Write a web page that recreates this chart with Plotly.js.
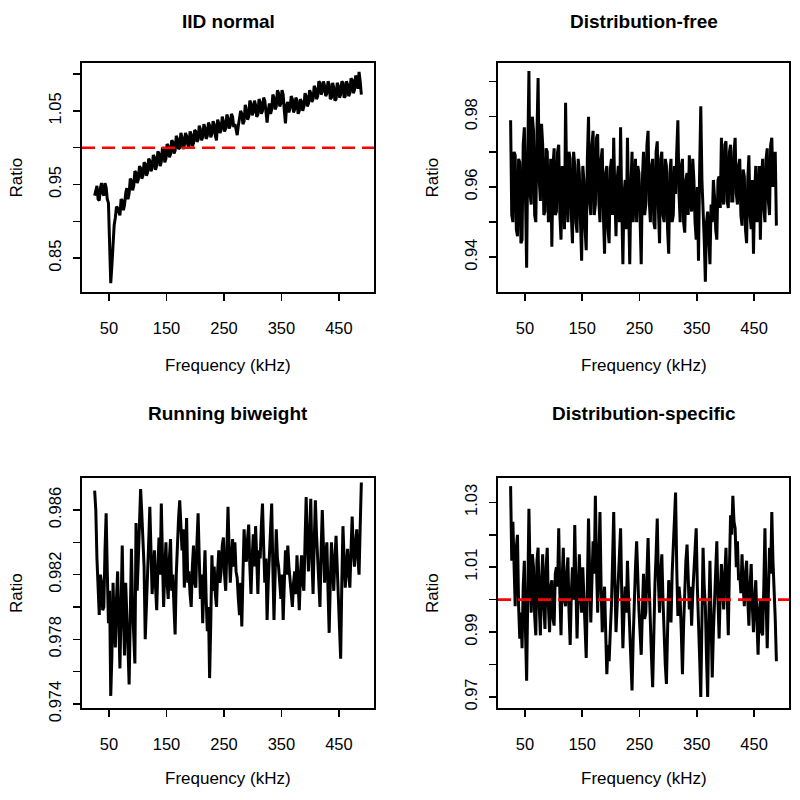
<!DOCTYPE html>
<html>
<head>
<meta charset="utf-8">
<script src="https://cdn.plot.ly/plotly-3.0.1.min.js"></script>
<style>
  body { margin: 0; background: #fff; }
  #chart { width: 800px; height: 800px; }
</style>
</head>
<body>
<div id="chart"></div>
<script>
// frequency grid (kHz)
const freq = [
  25, 27, 29, 31, 33, 35, 37, 39, 41, 43, 45, 47, 49, 51, 53, 55, 57, 59, 61, 63,
  65, 67, 69, 71, 73, 75, 77, 79, 81, 83, 85, 87, 89, 91, 93, 95, 97, 99, 101, 103,
  105, 107, 109, 111, 113, 115, 117, 119, 121, 123, 125, 127, 129, 131, 133, 135, 137, 139, 141, 143,
  145, 147, 149, 151, 153, 155, 157, 159, 161, 163, 165, 167, 169, 171, 173, 175, 177, 179, 181, 183,
  185, 187, 189, 191, 193, 195, 197, 199, 201, 203, 205, 207, 209, 211, 213, 215, 217, 219, 221, 223,
  225, 227, 229, 231, 233, 235, 237, 239, 241, 243, 245, 247, 249, 251, 253, 255, 257, 259, 261, 263,
  265, 267, 269, 271, 273, 275, 277, 279, 281, 283, 285, 287, 289, 291, 293, 295, 297, 299, 301, 303,
  305, 307, 309, 311, 313, 315, 317, 319, 321, 323, 325, 327, 329, 331, 333, 335, 337, 339, 341, 343,
  345, 347, 349, 351, 353, 355, 357, 359, 361, 363, 365, 367, 369, 371, 373, 375, 377, 379, 381, 383,
  385, 387, 389, 391, 393, 395, 397, 399, 401, 403, 405, 407, 409, 411, 413, 415, 417, 419, 421, 423,
  425, 427, 429, 431, 433, 435, 437, 439, 441, 443, 445, 447, 449, 451, 453, 455, 457, 459, 461, 463,
  465, 467, 469, 471, 473, 475, 477, 479, 481, 483, 485, 487, 489
];

const iidNormal = [
  0.935, 0.944, 0.948, 0.930, 0.928, 0.945, 0.952, 0.938, 0.935, 0.952, 0.946, 0.930, 0.925, 0.870, 0.816, 0.840, 0.875, 0.895, 0.905, 0.920,
  0.918, 0.912, 0.908, 0.930, 0.928, 0.915, 0.922, 0.938, 0.945, 0.930, 0.938, 0.958, 0.955, 0.942, 0.948, 0.968, 0.966, 0.952, 0.957, 0.975,
  0.972, 0.958, 0.962, 0.980, 0.978, 0.962, 0.966, 0.985, 0.982, 0.968, 0.972, 0.990, 0.987, 0.970, 0.976, 0.995, 0.992, 0.975, 0.981, 1.000,
  0.998, 0.980, 0.985, 1.005, 1.002, 0.987, 0.991, 1.010, 1.008, 0.992, 0.996, 1.016, 1.012, 0.998, 1.000, 1.020, 1.014, 0.998, 1.003, 1.020,
  1.016, 1.004, 1.001, 1.022, 1.018, 1.002, 1.006, 1.024, 1.022, 1.008, 1.011, 1.030, 1.025, 1.010, 1.014, 1.032, 1.027, 1.012, 1.016, 1.034,
  1.030, 1.014, 1.019, 1.036, 1.032, 1.016, 1.010, 1.038, 1.033, 1.020, 1.024, 1.042, 1.036, 1.022, 1.026, 1.045, 1.040, 1.026, 1.030, 1.046,
  1.042, 1.028, 1.032, 1.025, 1.017, 1.030, 1.038, 1.050, 1.046, 1.032, 1.036, 1.058, 1.052, 1.038, 1.042, 1.064, 1.060, 1.044, 1.048, 1.064,
  1.058, 1.042, 1.045, 1.066, 1.062, 1.046, 1.050, 1.068, 1.064, 1.050, 1.034, 1.050, 1.060, 1.046, 1.052, 1.072, 1.068, 1.052, 1.056, 1.078,
  1.074, 1.056, 1.060, 1.078, 1.072, 1.050, 1.033, 1.058, 1.062, 1.048, 1.054, 1.070, 1.066, 1.048, 1.052, 1.068, 1.064, 1.046, 1.050, 1.066,
  1.062, 1.050, 1.056, 1.074, 1.070, 1.056, 1.060, 1.078, 1.074, 1.062, 1.066, 1.084, 1.080, 1.066, 1.070, 1.090, 1.088, 1.072, 1.076, 1.090,
  1.084, 1.070, 1.074, 1.090, 1.086, 1.066, 1.068, 1.088, 1.082, 1.064, 1.066, 1.088, 1.084, 1.068, 1.072, 1.090, 1.088, 1.068, 1.070, 1.090,
  1.086, 1.070, 1.074, 1.094, 1.092, 1.074, 1.078, 1.098, 1.094, 1.080, 1.103, 1.090, 1.072
];

const distFree = [
  0.979, 0.952, 0.950, 0.970, 0.969, 0.948, 0.946, 0.968, 0.967, 0.944, 0.945, 0.972, 0.977, 0.955, 0.937, 0.970, 0.993, 0.958, 0.955, 0.980,
  0.976, 0.952, 0.950, 0.975, 0.991, 0.962, 0.956, 0.978, 0.972, 0.952, 0.953, 0.971, 0.970, 0.950, 0.955, 0.968, 0.943, 0.966, 0.971, 0.952,
  0.953, 0.970, 0.972, 0.952, 0.945, 0.966, 0.962, 0.948, 0.984, 0.960, 0.950, 0.970, 0.968, 0.952, 0.944, 0.970, 0.966, 0.950, 0.947, 0.968,
  0.964, 0.950, 0.939, 0.966, 0.962, 0.948, 0.942, 0.968, 0.980, 0.956, 0.952, 0.972, 0.976, 0.952, 0.955, 0.974, 0.975, 0.956, 0.950, 0.968,
  0.971, 0.952, 0.941, 0.964, 0.966, 0.948, 0.944, 0.965, 0.968, 0.952, 0.974, 0.958, 0.946, 0.962, 0.966, 0.950, 0.977, 0.955, 0.938, 0.958,
  0.962, 0.948, 0.974, 0.955, 0.938, 0.960, 0.970, 0.950, 0.959, 0.968, 0.950, 0.966, 0.964, 0.950, 0.938, 0.962, 0.970, 0.952, 0.955, 0.972,
  0.976, 0.956, 0.950, 0.966, 0.968, 0.950, 0.948, 0.970, 0.973, 0.954, 0.944, 0.968, 0.970, 0.952, 0.950, 0.968, 0.966, 0.948, 0.941, 0.964,
  0.968, 0.950, 0.952, 0.966, 0.958, 0.970, 0.979, 0.958, 0.950, 0.966, 0.968, 0.950, 0.947, 0.962, 0.964, 0.952, 0.969, 0.958, 0.953, 0.968,
  0.962, 0.950, 0.945, 0.960, 0.939, 0.965, 0.983, 0.962, 0.955, 0.945, 0.933, 0.950, 0.953, 0.944, 0.938, 0.955, 0.950, 0.962, 0.957, 0.948,
  0.945, 0.962, 0.963, 0.954, 0.974, 0.958, 0.955, 0.972, 0.973, 0.956, 0.954, 0.970, 0.972, 0.956, 0.956, 0.970, 0.974, 0.958, 0.955, 0.966,
  0.968, 0.952, 0.949, 0.965, 0.963, 0.948, 0.944, 0.962, 0.969, 0.952, 0.948, 0.962, 0.941, 0.958, 0.966, 0.950, 0.952, 0.966, 0.945, 0.962,
  0.968, 0.954, 0.950, 0.968, 0.971, 0.956, 0.952, 0.972, 0.974, 0.960, 0.964, 0.970, 0.949
];

const runningBiweight = [
  0.9872, 0.9860, 0.9830, 0.9808, 0.9795, 0.9820, 0.9815, 0.9798, 0.9800, 0.9835, 0.9858, 0.9822, 0.9790, 0.9810, 0.9745, 0.9770, 0.9815, 0.9790, 0.9775, 0.9805,
  0.9822, 0.9790, 0.9762, 0.9800, 0.9838, 0.9795, 0.9770, 0.9815, 0.9800, 0.9775, 0.9752, 0.9790, 0.9836, 0.9800, 0.9778, 0.9765, 0.9852, 0.9810, 0.9830, 0.9850,
  0.9873, 0.9858, 0.9845, 0.9825, 0.9780, 0.9805, 0.9820, 0.9840, 0.9862, 0.9830, 0.9808, 0.9822, 0.9835, 0.9812, 0.9798, 0.9825, 0.9843, 0.9820, 0.9864, 0.9830,
  0.9800, 0.9822, 0.9840, 0.9815, 0.9805, 0.9830, 0.9842, 0.9810, 0.9820, 0.9800, 0.9783, 0.9820, 0.9845, 0.9855, 0.9866, 0.9850, 0.9835, 0.9848, 0.9812, 0.9830,
  0.9855, 0.9815, 0.9822, 0.9808, 0.9800, 0.9825, 0.9838, 0.9815, 0.9812, 0.9840, 0.9858, 0.9830, 0.9805, 0.9820, 0.9790, 0.9815, 0.9835, 0.9805, 0.9785, 0.9800,
  0.9756, 0.9790, 0.9832, 0.9810, 0.9825, 0.9808, 0.9800, 0.9822, 0.9835, 0.9815, 0.9822, 0.9838, 0.9843, 0.9820, 0.9810, 0.9835, 0.9862, 0.9835, 0.9815, 0.9830,
  0.9842, 0.9825, 0.9840, 0.9822, 0.9818, 0.9805, 0.9795, 0.9815, 0.9788, 0.9820, 0.9848, 0.9832, 0.9828, 0.9842, 0.9851, 0.9825, 0.9808, 0.9830, 0.9845, 0.9825,
  0.9850, 0.9830, 0.9808, 0.9835, 0.9830, 0.9850, 0.9864, 0.9838, 0.9815, 0.9830, 0.9792, 0.9815, 0.9830, 0.9850, 0.9864, 0.9825, 0.9792, 0.9820, 0.9848, 0.9830,
  0.9825, 0.9815, 0.9805, 0.9820, 0.9792, 0.9815, 0.9835, 0.9820, 0.9838, 0.9825, 0.9818, 0.9808, 0.9800, 0.9815, 0.9822, 0.9808, 0.9832, 0.9815, 0.9798, 0.9820,
  0.9832, 0.9815, 0.9810, 0.9840, 0.9868, 0.9840, 0.9822, 0.9845, 0.9867, 0.9830, 0.9808, 0.9840, 0.9866, 0.9845, 0.9830, 0.9815, 0.9800, 0.9835, 0.9860, 0.9838,
  0.9815, 0.9832, 0.9840, 0.9810, 0.9784, 0.9815, 0.9840, 0.9825, 0.9810, 0.9830, 0.9844, 0.9825, 0.9805, 0.9790, 0.9768, 0.9815, 0.9850, 0.9830, 0.9812, 0.9825,
  0.9836, 0.9820, 0.9812, 0.9835, 0.9856, 0.9835, 0.9825, 0.9840, 0.9848, 0.9830, 0.9820, 0.9850, 0.9877
];

const distSpecific = [
  1.035, 1.012, 1.024, 1.008, 0.998, 1.016, 1.020, 0.998, 0.988, 0.996, 0.985, 1.004, 1.012, 0.990, 0.975, 1.002, 1.028, 1.008, 0.996, 1.014,
  1.010, 0.995, 0.989, 1.012, 1.016, 0.998, 0.989, 1.006, 1.014, 0.998, 0.991, 1.010, 1.016, 0.998, 0.990, 1.004, 1.006, 0.994, 0.992, 1.008,
  1.010, 1.004, 1.022, 1.002, 0.989, 1.006, 1.016, 1.000, 0.998, 1.008, 1.013, 0.996, 0.986, 1.002, 1.010, 1.000, 1.023, 1.004, 0.988, 1.002,
  1.014, 1.002, 0.996, 1.010, 1.000, 0.990, 0.982, 1.004, 1.025, 1.008, 0.993, 1.006, 1.018, 1.008, 1.032, 1.010, 0.996, 1.012, 1.027, 1.004,
  0.990, 0.998, 1.004, 0.990, 0.977, 0.986, 0.981, 0.990, 0.998, 1.012, 1.027, 1.006, 0.990, 0.998, 1.006, 1.014, 1.022, 1.002, 0.985, 0.996,
  1.004, 0.996, 1.012, 1.000, 0.990, 0.984, 0.972, 0.988, 1.002, 1.010, 1.018, 1.004, 0.997, 0.990, 0.983, 0.996, 1.008, 0.994, 0.996, 1.008,
  1.019, 1.004, 0.990, 0.982, 0.973, 0.992, 1.005, 1.014, 1.025, 1.006, 0.996, 1.008, 1.014, 1.000, 0.987, 0.980, 0.974, 0.994, 1.006, 0.998,
  0.993, 1.008, 1.018, 1.026, 1.033, 1.010, 0.995, 1.004, 1.000, 0.990, 0.977, 0.992, 1.004, 1.012, 1.017, 1.004, 0.997, 1.004, 0.992, 1.002,
  1.008, 1.014, 1.022, 1.004, 0.995, 0.982, 0.970, 0.996, 1.016, 1.004, 0.998, 0.982, 0.970, 0.994, 1.012, 0.994, 0.976, 0.990, 1.000, 1.010,
  1.018, 1.000, 0.988, 1.002, 1.011, 1.004, 0.997, 1.008, 1.016, 1.002, 0.989, 1.010, 1.026, 1.020, 1.032, 1.024, 1.022, 1.010, 1.018, 1.006,
  1.008, 1.002, 1.014, 1.004, 0.998, 1.008, 1.012, 1.000, 0.992, 1.004, 1.011, 0.998, 0.990, 1.000, 1.006, 0.994, 0.983, 0.996, 1.000, 0.990,
  0.989, 1.004, 1.022, 1.000, 0.985, 1.002, 1.016, 1.008, 1.027, 1.012, 1.004, 0.994, 0.981
];

const xTicks = [50, 150, 250, 350, 450];
const refLevel = 1.0;

const font = 'Liberation Sans, Arial, Helvetica, sans-serif';

function line(y, xa, ya) {
  return {
    x: freq, y: y, xaxis: xa, yaxis: ya,
    type: 'scatter', mode: 'lines',
    line: {color: '#000', width: 3},
    hoverinfo: 'skip', showlegend: false
  };
}

function xAxis(dom, anchor) {
  return {
    domain: dom, anchor: anchor, range: [3, 511],
    tickvals: xTicks, ticktext: xTicks.map(String),
    ticks: 'outside', ticklen: 7, tickwidth: 1.5, tickcolor: '#000',
    ticklabelstandoff: 13,
    showline: true, mirror: true, linecolor: '#000', linewidth: 2,
    showgrid: false, zeroline: false,
    tickfont: {family: font, size: 16.5, color: '#000'}
  };
}

function yAxis(dom, anchor, range, vals, labels) {
  return {
    domain: dom, anchor: anchor, range: range,
    tickvals: vals, ticktext: labels, tickangle: -90,
    ticks: 'outside', ticklen: 7, tickwidth: 1.5, tickcolor: '#000',
    ticklabelstandoff: 5,
    showline: true, mirror: true, linecolor: '#000', linewidth: 2,
    showgrid: false, zeroline: false,
    tickfont: {family: font, size: 16.5, color: '#000'}
  };
}

const traces = [
  line(iidNormal, 'x', 'y'),
  line(distFree, 'x2', 'y2'),
  line(runningBiweight, 'x3', 'y3'),
  line(distSpecific, 'x4', 'y4')
];

const leftDom = [0.1025, 0.4675];
const rightDom = [0.6225, 0.98625];
const topDom = [0.635, 0.92125];
const botDom = [0.115, 0.4025];

function ann(text, x, y, opts) {
  return Object.assign({
    text: text, x: x, y: y, xref: 'paper', yref: 'paper',
    xanchor: 'center', yanchor: 'middle', showarrow: false,
    font: {family: font, size: 17, color: '#000'}
  }, opts || {});
}

const titles = ['IID normal', 'Distribution-free', 'Running biweight', 'Distribution-specific'];
const annotations = [];
[[leftDom, 22, 365], [rightDom, 22, 365], [leftDom, 414, 778], [rightDom, 414, 778]].forEach((p, i) => {
  const cx = (p[0][0] + p[0][1]) / 2;
  annotations.push(ann('<b>' + titles[i] + '</b>', cx, 1 - p[1] / 800, {font: {family: font, size: 19, color: '#000'}}));
  annotations.push(ann('Frequency (kHz)', cx, 1 - p[2] / 800));
});
[[16, topDom], [16, botDom], [432, topDom], [432, botDom]].forEach(p => {
  annotations.push(ann('Ratio', p[0] / 800, (p[1][0] + p[1][1]) / 2, {textangle: -90}));
});

function refLine(xa, ya) {
  return {
    type: 'line', xref: xa + ' domain', yref: ya,
    x0: 0, x1: 1, y0: refLevel, y1: refLevel,
    line: {color: '#ff0000', width: 2.6, dash: '13px,7px'}
  };
}

const layout = {
  width: 800, height: 800,
  margin: {l: 0, r: 0, t: 0, b: 0},
  paper_bgcolor: '#fff', plot_bgcolor: '#fff',
  showlegend: false,
  xaxis: xAxis(leftDom, 'y'),
  yaxis: yAxis(topDom, 'x', [0.804, 1.115],
    [0.85, 0.90, 0.95, 1.00, 1.05, 1.10], ['0.85', '', '0.95', '', '1.05', '']),
  xaxis2: xAxis(rightDom, 'y2'),
  yaxis2: yAxis(topDom, 'x2', [0.9301, 0.9953],
    [0.94, 0.95, 0.96, 0.97, 0.98, 0.99], ['0.94', '', '0.96', '', '0.98', '']),
  xaxis3: xAxis(leftDom, 'y3'),
  yaxis3: yAxis(botDom, 'x3', [0.97375, 0.98798],
    [0.974, 0.976, 0.978, 0.980, 0.982, 0.984, 0.986], ['0.974', '', '0.978', '', '0.982', '', '0.986']),
  xaxis4: xAxis(rightDom, 'y4'),
  yaxis4: yAxis(botDom, 'x4', [0.9666, 1.0375],
    [0.97, 0.98, 0.99, 1.00, 1.01, 1.02, 1.03], ['0.97', '', '0.99', '', '1.01', '', '1.03']),
  shapes: [refLine('x', 'y'), refLine('x4', 'y4')],
  annotations: annotations
};

Plotly.newPlot('chart', traces, layout, {staticPlot: true});
</script>
</body>
</html>
